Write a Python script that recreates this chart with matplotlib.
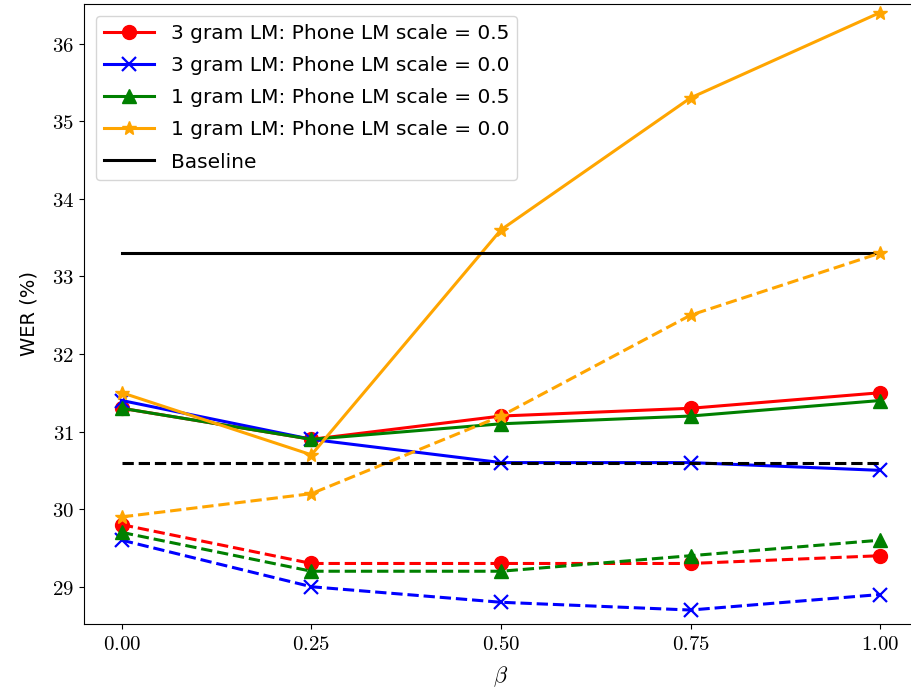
import numpy as np
import matplotlib.pyplot as plt
from matplotlib.ticker import FuncFormatter

plt.rcParams['mathtext.fontset'] = 'cm'
plt.rcParams['font.family'] = ['DejaVu Sans']

# beta values on x axis
beta = [0.0, 0.25, 0.5, 0.75, 1.0]

# solid lines
tri_p05 = [31.3, 30.9, 31.2, 31.3, 31.5]
tri_p00 = [31.4, 30.9, 30.6, 30.6, 30.5]
uni_p05 = [31.3, 30.9, 31.1, 31.2, 31.4]
uni_p00 = [31.5, 30.7, 33.6, 35.3, 36.4]

# dashed lines
tri_p05_d = [29.8, 29.3, 29.3, 29.3, 29.4]
tri_p00_d = [29.6, 29.0, 28.8, 28.7, 28.9]
uni_p05_d = [29.7, 29.2, 29.2, 29.4, 29.6]
uni_p00_d = [29.9, 30.2, 31.2, 32.5, 33.3]

baseline = 33.3
baseline_d = 30.6

fig = plt.figure(figsize=(9.12, 6.94), dpi=100)
ax = fig.add_axes([84 / 912, 70 / 694, 834 / 912, 620 / 694])

lw = 2.2
ms = 10
ax.plot(beta, tri_p05, color='red', marker='o', lw=lw, ms=ms, label='3 gram LM: Phone LM scale = 0.5')
ax.plot(beta, tri_p00, color='blue', marker='x', lw=lw, ms=ms, mew=1.6, label='3 gram LM: Phone LM scale = 0.0')
ax.plot(beta, uni_p05, color='green', marker='^', lw=lw, ms=ms, label='1 gram LM: Phone LM scale = 0.5')
ax.plot(beta, uni_p00, color='orange', marker='*', lw=lw, ms=ms, label='1 gram LM: Phone LM scale = 0.0')
ax.plot([beta[0], beta[-1]], [baseline, baseline], color='black', lw=lw, label='Baseline')

ax.plot(beta, tri_p05_d, color='red', marker='o', lw=lw, ms=ms, ls='--')
ax.plot(beta, tri_p00_d, color='blue', marker='x', lw=lw, ms=ms, mew=1.6, ls='--')
ax.plot(beta, uni_p05_d, color='green', marker='^', lw=lw, ms=ms, ls='--')
ax.plot(beta, uni_p00_d, color='orange', marker='*', lw=lw, ms=ms, ls='--')
ax.plot([beta[0], beta[-1]], [baseline_d, baseline_d], color='black', lw=lw, ls='--')

ax.set_xlim(-0.05, 1.05)
ax.set_ylim(28.52, 36.51)
ax.set_xticks(beta)
ax.set_yticks(range(29, 37))
ax.xaxis.set_major_formatter(FuncFormatter(lambda v, p: '$%.2f$' % v))
ax.yaxis.set_major_formatter(FuncFormatter(lambda v, p: '$%d$' % v))
ax.tick_params(labelsize=15)

ax.set_xlabel(r'$\beta$', fontsize=16, labelpad=8)
ax.set_ylabel('WER (%)', fontsize=14, labelpad=10)
ax.legend(loc='upper left', fontsize=14.5, handlelength=2.5, labelspacing=0.65,
          borderaxespad=0.6)

fig.savefig('out.png', dpi=100)
